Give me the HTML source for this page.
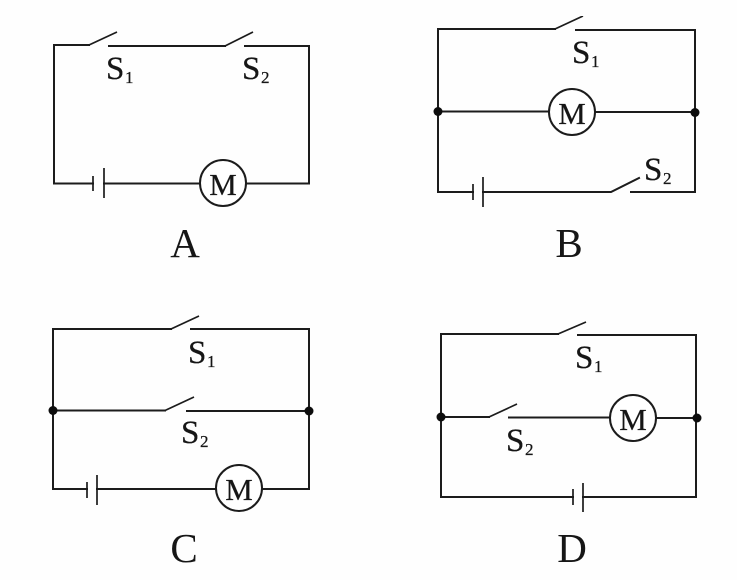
<!DOCTYPE html>
<html><head><meta charset="utf-8"><style>
html,body{margin:0;padding:0;background:#fff;width:737px;height:580px;overflow:hidden}
svg{display:block}
.w{fill:none;stroke:#1a1a1a;stroke-width:2;stroke-linecap:square;stroke-linejoin:miter}
.t{stroke-width:1.7;stroke-linecap:butt}
text{font-family:"Liberation Serif",serif;fill:#141414;stroke:#141414;stroke-width:.25}
.s{font-size:33px}.n{font-size:17px}.m{font-size:31px;text-anchor:middle}.l{font-size:41px;text-anchor:middle;stroke-width:0}
circle.c{fill:#fff;stroke:#1a1a1a;stroke-width:2}
circle.d{fill:#111}
</style></head><body>
<svg width="737" height="580" viewBox="0 0 737 580" xmlns="http://www.w3.org/2000/svg">
<defs><filter id="b" x="0" y="0" width="100%" height="100%"><feGaussianBlur stdDeviation="0.35"/></filter></defs>
<rect width="737" height="580" fill="#fefefe"/>
<g filter="url(#b)">
<!-- A -->
<path class="w" d="M89 45H54V183.500H93M104 183.500H200M246 183.500H309V46H245M225 46H109"/>
<path class="w t" d="M89 45L117 32M225 46L253 32M93 176V191M104 168V198"/>
<circle class="c" cx="223" cy="183" r="23"/>
<text class="m" x="223" y="195">M</text>
<text class="s" x="106" y="79">S</text><text class="n" x="125" y="83">1</text>
<text class="s" x="242" y="79">S</text><text class="n" x="261" y="83">2</text>
<text class="l" x="185" y="257">A</text>

<!-- B -->
<path class="w" d="M555 29H438V192H473M483 192H611L639 178M631 192H695V30H576M438 111.500H549M595 112H695"/>
<path class="w t" d="M555 29L583 16M473 184V200M483 177V207"/>
<circle class="c" cx="572" cy="112" r="23"/>
<circle class="d" cx="438" cy="111.500" r="4.500"/><circle class="d" cx="695" cy="112.500" r="4.500"/>
<text class="m" x="572" y="124">M</text>
<text class="s" x="572" y="63">S</text><text class="n" x="591" y="67">1</text>
<text class="s" x="644" y="180">S</text><text class="n" x="663" y="184">2</text>
<text class="l" x="569" y="257">B</text>

<!-- C -->
<path class="w" d="M171 329H53V489H87M97 489H216M262 489H309V329H191M53 410.500H165M187 411H309"/>
<path class="w t" d="M171 329L199 316M165 410.500L194 397M87 482V498M97 475V505"/>
<circle class="c" cx="239" cy="488" r="23"/>
<circle class="d" cx="53" cy="410.500" r="4.500"/><circle class="d" cx="309" cy="411" r="4.500"/>
<text class="m" x="239" y="500">M</text>
<text class="s" x="188" y="363">S</text><text class="n" x="207" y="367">1</text>
<text class="s" x="181" y="443">S</text><text class="n" x="200" y="447">2</text>
<text class="l" x="184" y="562">C</text>

<!-- D -->
<path class="w" d="M558 334H441V497H573M583 497H696V335H578M441 417H489M509 417.500H610M656 418H697"/>
<path class="w t" d="M558 334L586 322M489 417L517 404M573 489V505M583 483V512"/>
<circle class="c" cx="633" cy="418" r="23"/>
<circle class="d" cx="441" cy="417" r="4.500"/><circle class="d" cx="697" cy="418" r="4.500"/>
<text class="m" x="633" y="430">M</text>
<text class="s" x="575" y="368">S</text><text class="n" x="594" y="372">1</text>
<text class="s" x="506" y="451">S</text><text class="n" x="525" y="455">2</text>
<text class="l" x="572" y="562">D</text>
</g>
</svg>
</body></html>
